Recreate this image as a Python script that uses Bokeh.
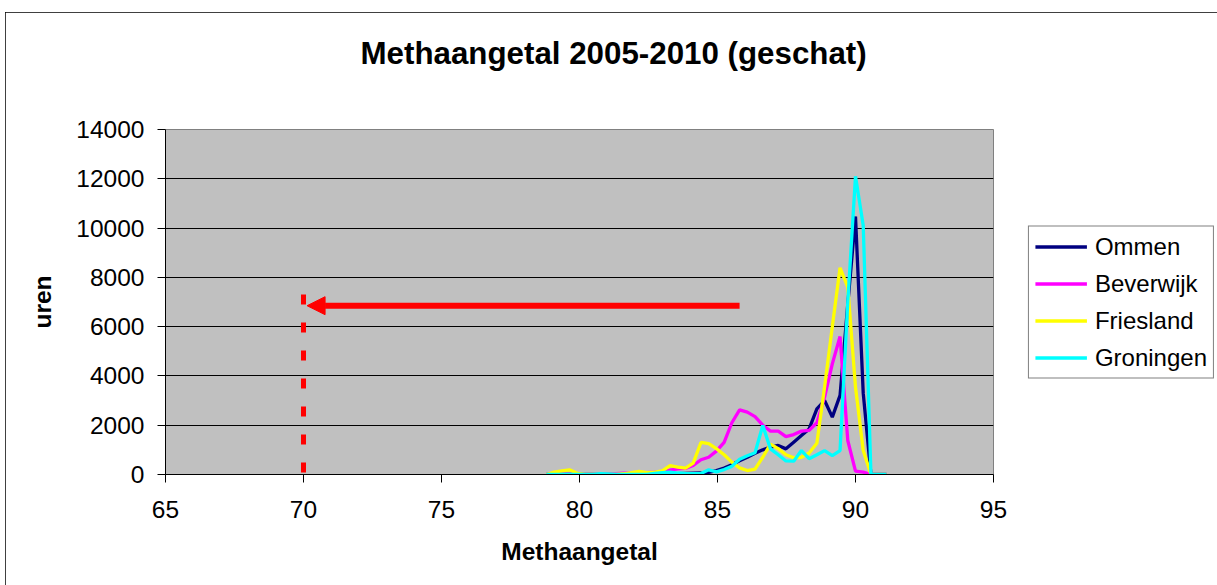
from bokeh.plotting import figure
from bokeh.models import (Range1d, Legend, LegendItem, Arrow, NormalHead,
                          FixedTicker, InlineStyleSheet, LinearAxis)
from bokeh.embed import file_html
from bokeh.resources import INLINE

# ---- data ----
methaangetal = [78.8, 79.08, 79.36, 79.64, 79.92, 80.2, 80.48, 80.76, 81.04, 81.32,
                81.6, 81.88, 82.16, 82.44, 82.72, 83.0, 83.28, 83.56, 83.84, 84.12,
                84.4, 84.68, 84.96, 85.24, 85.52, 85.8, 86.08, 86.36, 86.64, 86.92,
                87.2, 87.48, 87.76, 88.04, 88.32, 88.6, 88.88, 89.16, 89.44, 89.72,
                90.0, 90.28, 90.56, 90.84, 91.12]

ommen = [0, 0, 0, 0, 0, 0, 0, 0, 0, 0,
         0, 0, 0, 0, 10, 20, 30, 30, 40, 50,
         60, 90, 160, 260, 400, 560, 700, 860, 1000, 1110,
         1180, 1040, 1310, 1580, 1850, 2660, 3000, 2330, 3210, 6900,
         10470, 3300, 0, 0, 0]

beverwijk = [0, 0, 0, 0, 0, 0, 0, 0, 20, 30,
             50, 60, 80, 80, 100, 130, 180, 230, 250, 365,
             600, 700, 950, 1300, 2100, 2620, 2530, 2350, 2000, 1760,
             1760, 1540, 1620, 1760, 1790, 2100, 3140, 4490, 5600, 1380,
             135, 95, 0, 0, 0]

friesland = [0, 100, 150, 190, 50, 0, 0, 0, 0, 0,
             30, 80, 130, 80, 100, 150, 360, 300, 260, 460,
             1300, 1250, 1050, 800, 500, 270, 160, 220, 700, 1230,
             1050, 800, 680, 700, 870, 1270, 3550, 6000, 8390, 7600,
             3550, 975, 0, 0, 0]

groningen = [0, 0, 0, 0, 0, 0, 0, 30, 20, 0,
             0, 0, 0, 0, 50, 80, 100, 60, 40, 30,
             40, 190, 110, 200, 330, 620, 760, 880, 1990, 1040,
             800, 550, 540, 970, 640, 800, 970, 770, 970, 7000,
             12100, 10100, 0, 0, 0]

series_names = ["Ommen", "Beverwijk", "Friesland", "Groningen"]
x_ticks = [65, 70, 75, 80, 85, 90, 95]
y_ticks = [0, 2000, 4000, 6000, 8000, 10000, 12000, 14000]

# red annotation (limit marker and arrow)
marker_x = 70
marker_top = 7300
arrow_from = 85.8
arrow_to = 70.13
arrow_y = 6850

title_text = "Methaangetal 2005-2010 (geschat)"
x_label = "Methaangetal"
y_label = "uren"

# ---- styling ----
FONT = "Liberation Sans"
colors = ["#000080", "#FF00FF", "#FFFF00", "#00FFFF"]

border_css = InlineStyleSheet(css=(
    ":host { width: 1212px !important; height: 573px !important; "
    "outline: 1px solid #000000; outline-offset: -1px; }"))

p = figure(frame_width=828, frame_height=345,
           x_range=Range1d(x_ticks[0], x_ticks[-1]),
           y_range=Range1d(y_ticks[0], y_ticks[-1]),
           output_backend="svg", toolbar_location=None,
           min_border_left=160, min_border_right=224,
           min_border_top=117, min_border_bottom=111,
           background_fill_color="#C0C0C0", border_fill_color="#FFFFFF",
           styles={"margin-left": "5px", "margin-top": "12px"},
           stylesheets=[border_css])

xax = p.below[0]
yax = p.left[0]

# spacer axis between frame and title (white tick on white, lifts the title)
spacer = LinearAxis(ticker=FixedTicker(ticks=[x_ticks[0]]), axis_line_color=None,
                    major_tick_line_color="#FFFFFF", minor_tick_line_color=None,
                    major_tick_out=44, major_tick_in=0, minor_tick_out=0, minor_tick_in=0,
                    major_label_standoff=0, major_label_overrides={x_ticks[0]: ""})
p.add_layout(spacer, "above")

p.title.text = title_text
p.title.text_font = FONT
p.title.text_font_size = "31.3px"
p.title.text_font_style = "bold"
p.title.text_color = "#000000"
p.title.align = "left"
p.title.offset = 195
p.title.vertical_align = "bottom"
p.title.standoff = 30

p.outline_line_color = "#808080"
p.outline_line_width = 1

p.xgrid.visible = False
p.ygrid.ticker = FixedTicker(ticks=y_ticks)
p.ygrid.grid_line_color = "#000000"
p.ygrid.grid_line_width = 1

for ax in (xax, yax):
    ax.axis_line_color = "#000000"
    ax.axis_line_width = 1
    ax.major_tick_line_color = "#000000"
    ax.major_tick_out = 8
    ax.major_tick_in = 0
    ax.minor_tick_out = 0
    ax.minor_tick_in = 0
    ax.major_label_text_font = FONT
    ax.major_label_text_font_size = "24.5px"
    ax.major_label_text_color = "#000000"
    ax.axis_label_text_font = FONT
    ax.axis_label_text_font_size = "24.5px"
    ax.axis_label_text_font_style = "bold"
    ax.axis_label_text_color = "#000000"

xax.ticker = FixedTicker(ticks=x_ticks)
yax.ticker = FixedTicker(ticks=y_ticks)
xax.major_label_standoff = 18
yax.major_label_standoff = 13
xax.axis_label = x_label
yax.axis_label = y_label
xax.axis_label_standoff = 17
yax.axis_label_standoff = 17

# ---- data lines ----
renderers = []
for name, ys, c in zip(series_names, [ommen, beverwijk, friesland, groningen], colors):
    r = p.line(methaangetal, ys, line_color=c, line_width=3.3)
    renderers.append(r)

# ---- red marker line and arrow ----
p.segment(x0=[marker_x], y0=[marker_top], x1=[marker_x], y1=[y_ticks[0]],
          line_color="#FF0000", line_width=5, line_dash="10 18", line_cap="butt")
p.add_layout(Arrow(end=NormalHead(size=18, fill_color="#FF0000", line_color="#FF0000", line_width=1),
                   x_start=arrow_from, y_start=arrow_y, x_end=arrow_to, y_end=arrow_y,
                   line_color="#FF0000", line_width=6))

# ---- legend (right panel) ----
legend = Legend(items=[LegendItem(label=n, renderers=[r]) for n, r in zip(series_names, renderers)],
                location="right", orientation="vertical",
                label_text_font=FONT, label_text_font_size="24px", label_text_color="#000000",
                label_text_baseline="middle",
                glyph_width=52, glyph_height=26, label_height=26, label_standoff=8,
                spacing=9, padding=6, margin=3,
                border_line_color="#000000", border_line_width=1,
                background_fill_color="#FFFFFF", background_fill_alpha=1.0)
p.add_layout(legend, "right")

open("out.html", "w").write(file_html(p, INLINE))
